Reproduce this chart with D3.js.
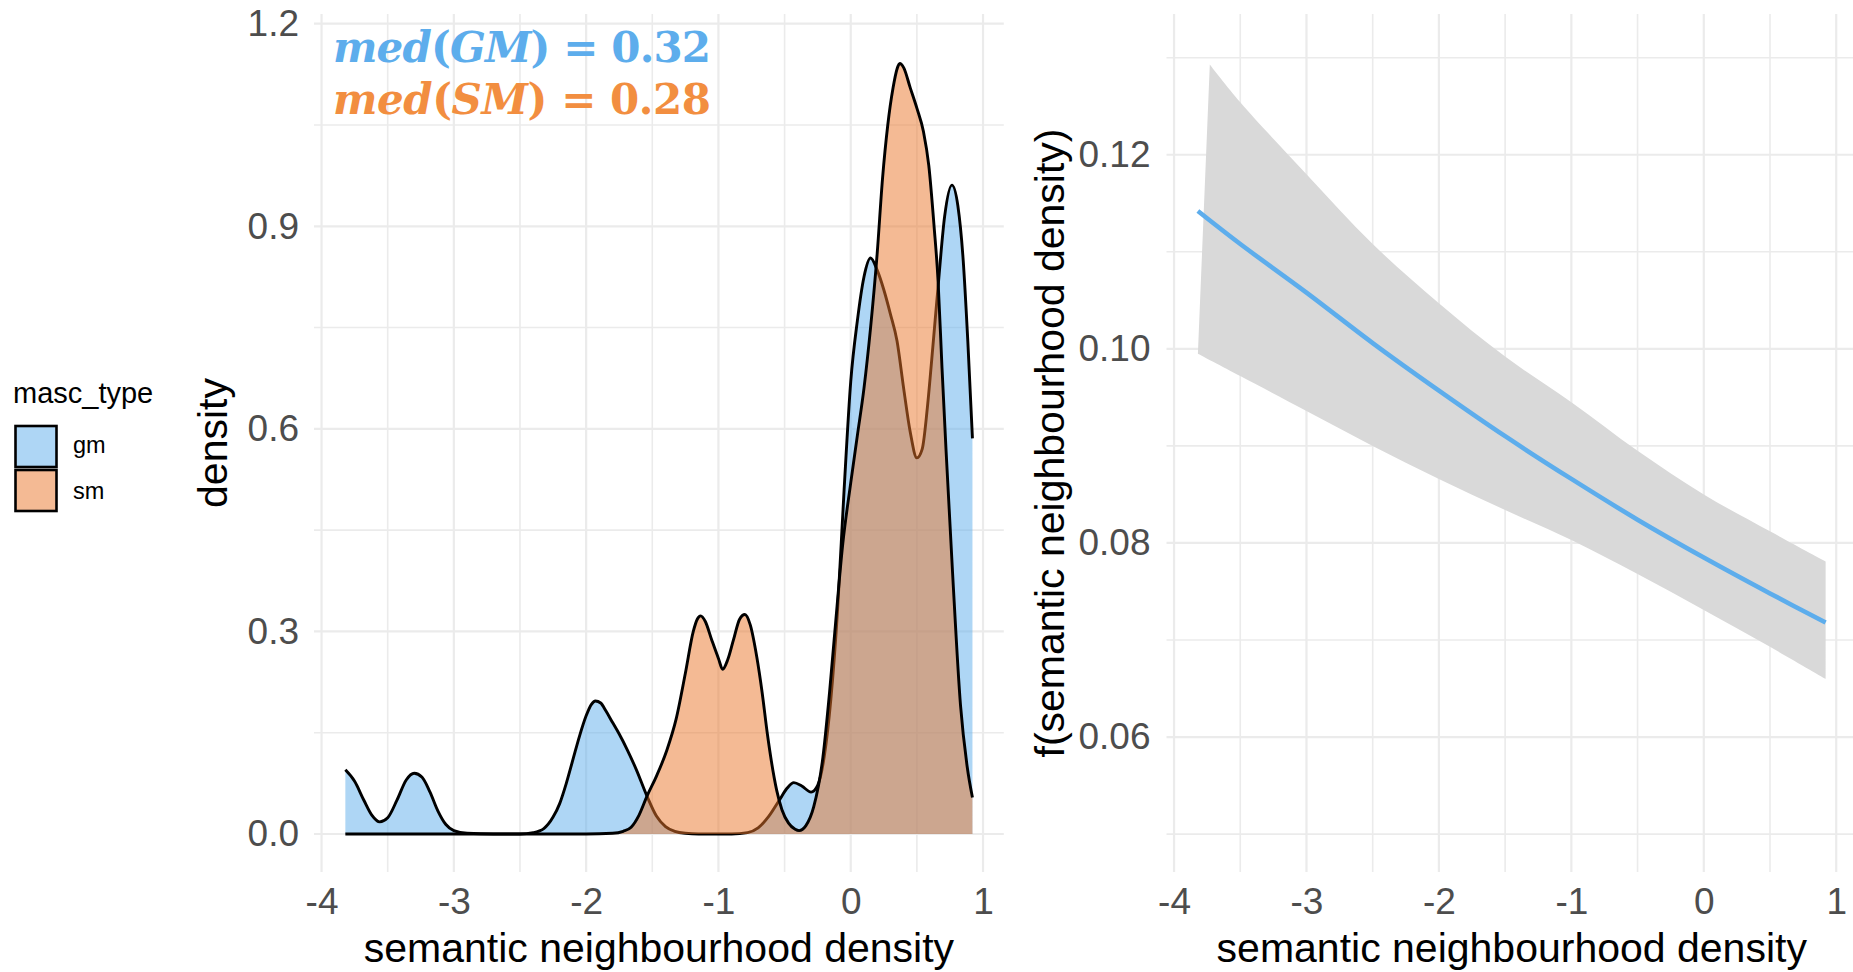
<!DOCTYPE html>
<html>
<head>
<meta charset="utf-8">
<script src="https://cdn.jsdelivr.net/npm/d3@7"></script>
<style>
body { margin: 0; background: #fff; }
text { font-family: "Liberation Sans", Arial, sans-serif; }
</style>
</head>
<body>
<div id="chart"></div>
<script>
// values
var series = ["gm", "sm"];
var gmX = [-3.82, -3.75, -3.68, -3.62, -3.56, -3.5, -3.43, -3.36, -3.3, -3.24, -3.18, -3.12, -3.06, -3.0, -2.9, -2.7, -2.5, -2.4, -2.32, -2.25, -2.2, -2.15, -2.1, -2.05, -2.0, -1.96, -1.93, -1.89, -1.85, -1.8, -1.75, -1.69, -1.62, -1.54, -1.47, -1.4, -1.33, -1.25, -1.15, -0.9, -0.78, -0.7, -0.62, -0.54, -0.48, -0.43, -0.37, -0.3, -0.25, -0.2, -0.15, -0.1, -0.05, 0.0, 0.05, 0.1, 0.15, 0.2, 0.25, 0.3, 0.35, 0.4, 0.45, 0.5, 0.54, 0.58, 0.62, 0.66, 0.71, 0.765, 0.81, 0.85, 0.885, 0.92];
var gmDensity = [0.095, 0.078, 0.05, 0.028, 0.018, 0.024, 0.05, 0.08, 0.09, 0.084, 0.062, 0.034, 0.014, 0.005, 0.001, 0.0, 0.0, 0.002, 0.008, 0.025, 0.045, 0.075, 0.11, 0.145, 0.175, 0.192, 0.197, 0.194, 0.182, 0.165, 0.148, 0.125, 0.095, 0.056, 0.027, 0.011, 0.004, 0.001, 0.0, 0.0, 0.002, 0.009, 0.026, 0.05, 0.068, 0.076, 0.071, 0.062, 0.072, 0.115, 0.2, 0.33, 0.51, 0.67, 0.76, 0.825, 0.853, 0.835, 0.806, 0.77, 0.73, 0.66, 0.595, 0.557, 0.57, 0.633, 0.72, 0.81, 0.915, 0.961, 0.93, 0.85, 0.73, 0.586];
var smX = [-3.82, -2.5, -2.0, -1.8, -1.72, -1.66, -1.6, -1.54, -1.47, -1.39, -1.32, -1.25, -1.19, -1.16, -1.134, -1.1, -1.05, -1.0, -0.968, -0.93, -0.887, -0.84, -0.8, -0.76, -0.71, -0.67, -0.63, -0.6, -0.56, -0.52, -0.47, -0.42, -0.39, -0.34, -0.28, -0.21, -0.16, -0.12, -0.06, 0.0, 0.05, 0.1, 0.15, 0.2, 0.24, 0.28, 0.32, 0.35, 0.371, 0.4, 0.45, 0.5, 0.55, 0.59, 0.63, 0.66, 0.69, 0.72, 0.77, 0.83, 0.88, 0.92];
var smDensity = [0.0, 0.0, 0.0, 0.001, 0.004, 0.01, 0.028, 0.056, 0.085, 0.124, 0.17, 0.238, 0.3, 0.318, 0.323, 0.315, 0.287, 0.26, 0.244, 0.258, 0.287, 0.318, 0.325, 0.31, 0.262, 0.21, 0.148, 0.108, 0.065, 0.036, 0.016, 0.007, 0.005, 0.012, 0.04, 0.114, 0.21, 0.3, 0.43, 0.52, 0.59, 0.66, 0.75, 0.86, 0.97, 1.05, 1.105, 1.133, 1.141, 1.135, 1.105, 1.075, 1.04, 0.99, 0.9, 0.82, 0.69, 0.57, 0.386, 0.19, 0.1, 0.054];
var medNames = ["GM", "SM"];
var medValues = ["0.32", "0.28"];

var fitX = [-3.82, -3.5, -3.0, -2.5, -2.0, -1.5, -1.0, -0.5, 0.0, 0.5, 0.92];
var fitY = [0.1142, 0.1108, 0.1058, 0.1006, 0.0957, 0.0910, 0.0866, 0.0824, 0.0785, 0.0748, 0.0718];
var upperX = [-3.73, -3.5, -3.0, -2.5, -2.0, -1.5, -1.0, -0.5, 0.0, 0.5, 0.92];
var upperY = [0.1293, 0.1254, 0.1180, 0.1108, 0.1047, 0.0992, 0.0945, 0.0895, 0.0850, 0.0812, 0.0781];
var lowerX = [-3.82, -3.5, -3.0, -2.5, -2.0, -1.5, -1.0, -0.5, 0.0, 0.5, 0.92];
var lowerY = [0.0995, 0.0972, 0.0936, 0.0900, 0.0866, 0.0834, 0.0803, 0.0768, 0.0731, 0.0693, 0.0660];

var xTicks = [-4, -3, -2, -1, 0, 1];
var xMinor = [-3.5, -2.5, -1.5, -0.5, 0.5];
var densTicks = [0, 0.3, 0.6, 0.9, 1.2];
var densMinor = [0.15, 0.45, 0.75, 1.05];
var fitTicks = [0.06, 0.08, 0.10, 0.12];
var fitMinor = [0.05, 0.07, 0.09, 0.11, 0.13];

var fills = { gm: "#5DADEC", sm: "#E9762A" };
var textCols = { gm: "#5DADEC", sm: "#F28E40" };

var svg = d3.select("#chart").append("svg").attr("width", 1853).attr("height", 972);
svg.append("rect").attr("width", 1853).attr("height", 972).attr("fill", "#fff");

var panelTop = 14, panelBottom = 872;

function grid(g, x, y, xMaj, xMin, yMaj, yMin) {
    var x0 = x.range()[0], x1 = x.range()[1];
    g.selectAll(".vmin").data(xMin).enter().append("line")
        .attr("x1", d => x(d)).attr("x2", d => x(d)).attr("y1", panelTop).attr("y2", panelBottom)
        .attr("stroke", "#EBEBEB").attr("stroke-width", 1.6);
    g.selectAll(".hmin").data(yMin).enter().append("line")
        .attr("y1", d => y(d)).attr("y2", d => y(d)).attr("x1", x0).attr("x2", x1)
        .attr("stroke", "#EBEBEB").attr("stroke-width", 1.6);
    g.selectAll(".vmaj").data(xMaj).enter().append("line")
        .attr("x1", d => x(d)).attr("x2", d => x(d)).attr("y1", panelTop).attr("y2", panelBottom)
        .attr("stroke", "#EBEBEB").attr("stroke-width", 2.2);
    g.selectAll(".hmaj").data(yMaj).enter().append("line")
        .attr("y1", d => y(d)).attr("y2", d => y(d)).attr("x1", x0).attr("x2", x1)
        .attr("stroke", "#EBEBEB").attr("stroke-width", 2.2);
}

function axes(x, y, yT, fmt, padLeft) {
    var ax = svg.append("g").attr("transform", "translate(0," + panelBottom + ")")
        .call(d3.axisBottom(x).tickValues(xTicks).tickSize(0).tickPadding(16).tickFormat(d => String(d)));
    var ay = svg.append("g").attr("transform", "translate(" + x.range()[0] + ",0)")
        .call(d3.axisLeft(y).tickValues(yT).tickSize(0).tickPadding(padLeft).tickFormat(fmt));
    [ax, ay].forEach(function (a) {
        a.select(".domain").remove();
        a.selectAll("text").attr("fill", "#4D4D4D").style("font-size", "37px")
            .style("font-family", "'Liberation Sans', Arial, sans-serif");
    });
}

// ---- left panel: densities
var xL = d3.scaleLinear().domain([-4.057, 1.157]).range([314, 1003.8]);
var yL = d3.scaleLinear().domain([-0.0563, 1.2144]).range([panelBottom, panelTop]);
grid(svg.append("g"), xL, yL, xTicks, xMinor, densTicks, densMinor);

var dens = {
    gm: gmX.map((v, i) => [v, gmDensity[i]]),
    sm: smX.map((v, i) => [v, smDensity[i]])
};
var area = d3.area().x(d => xL(d[0])).y0(yL(0)).y1(d => yL(d[1])).curve(d3.curveMonotoneX);
var line = d3.line().x(d => xL(d[0])).y(d => yL(d[1])).curve(d3.curveMonotoneX);

series.forEach(function (s) {
    svg.append("path").attr("d", area(dens[s])).attr("fill", fills[s]).attr("fill-opacity", 0.5);
    svg.append("path").attr("d", line(dens[s])).attr("fill", "none")
        .attr("stroke", "#000").attr("stroke-width", 2.9).attr("stroke-linejoin", "round");
});
axes(xL, yL, densTicks, d3.format(".1f"), 15);

// median labels
medNames.forEach(function (n, i) {
    var s = series[i];
    var t = svg.append("text").attr("x", 333).attr("y", 62 + i * 51.5)
        .attr("fill", textCols[s]).style("font-family", "'DejaVu Serif', serif")
        .style("font-weight", "bold").style("font-size", "42px")
        .attr("textLength", 378).attr("lengthAdjust", "spacing");
    t.append("tspan").style("font-style", "italic").text("med");
    t.append("tspan").text("(");
    t.append("tspan").style("font-style", "italic").text(n);
    t.append("tspan").text(") = " + medValues[i]);
});

svg.append("text").attr("x", (314 + 1003.8) / 2).attr("y", 962)
    .attr("text-anchor", "middle").style("font-size", "41px").text("semantic neighbourhood density");
svg.append("text").attr("transform", "translate(227," + (panelTop + panelBottom) / 2 + ") rotate(-90)")
    .attr("text-anchor", "middle").style("font-size", "41px").text("density");

// legend
var leg = svg.append("g");
leg.append("text").attr("x", 13).attr("y", 403).style("font-size", "29px").text("masc_type");
series.forEach(function (s, i) {
    leg.append("rect").attr("x", 15.5).attr("y", 426 + i * 44).attr("width", 41).attr("height", 41)
        .attr("fill", fills[s]).attr("fill-opacity", 0.5).attr("stroke", "#000").attr("stroke-width", 2.6);
    leg.append("text").attr("x", 73).attr("y", 453 + i * 45.5).style("font-size", "23.5px").text(s);
});

// ---- right panel: fitted smooth
var xR = d3.scaleLinear().domain([-4.057, 1.157]).range([1166.5, 1857]);
var yR = d3.scaleLinear().domain([0.0461, 0.1345]).range([panelBottom, panelTop]);
grid(svg.append("g"), xR, yR, xTicks, xMinor, fitTicks, fitMinor);

var band = d3.line().x(d => xR(d[0])).y(d => yR(d[1])).curve(d3.curveCatmullRom.alpha(0.5));
var up = upperX.map((v, i) => [v, upperY[i]]);
var lo = lowerX.map((v, i) => [v, lowerY[i]]).reverse();
svg.append("path").attr("d", band(up) + "L" + band(lo).slice(1) + "Z").attr("fill", "#D9D9D9");
svg.append("path").attr("d", band(fitX.map((v, i) => [v, fitY[i]])))
    .attr("fill", "none").attr("stroke", "#5DADEC").attr("stroke-width", 4.6);

axes(xR, yR, fitTicks, d3.format(".2f"), 16);

svg.append("text").attr("x", (1166.5 + 1857) / 2).attr("y", 962)
    .attr("text-anchor", "middle").style("font-size", "41px").text("semantic neighbourhood density");
svg.append("text").attr("transform", "translate(1064," + (panelTop + panelBottom) / 2 + ") rotate(-90)")
    .attr("text-anchor", "middle").style("font-size", "41px").text("f(semantic neighbourhood density)");
</script>
</body>
</html>
